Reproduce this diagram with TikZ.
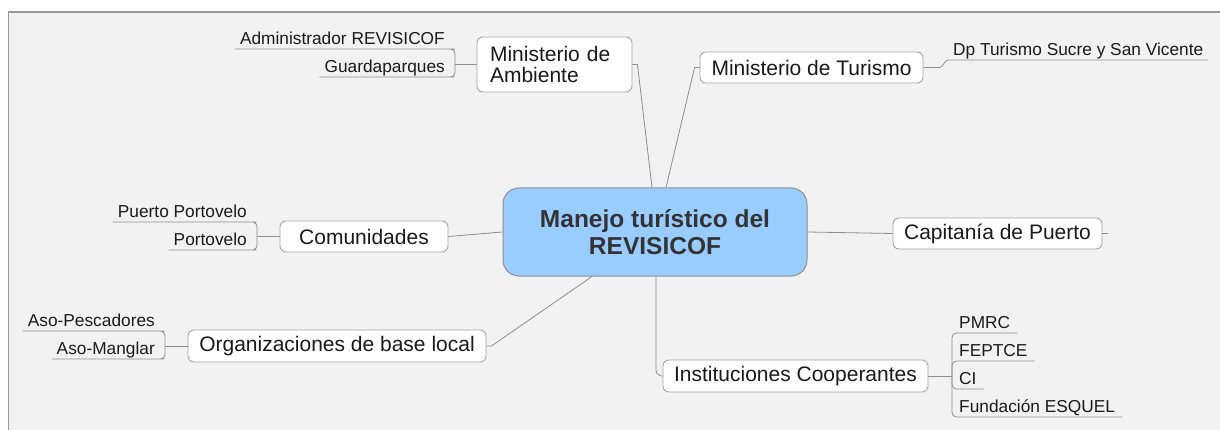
\documentclass[tikz,border=0pt]{standalone}
\usepackage{fontspec}
\setmainfont{Liberation Sans}
\usetikzlibrary{calc}
\definecolor{bgpanel}{HTML}{F2F2F2}
\definecolor{frameline}{HTML}{9A9A9A}
\definecolor{boxline}{HTML}{A6A6A6}
\definecolor{connline}{HTML}{8E8E8E}
\definecolor{centerblue}{HTML}{99CCFF}
\definecolor{centertext}{HTML}{333333}
\definecolor{labeltext}{HTML}{1A1A1A}
\tikzset{
  topicbox/.style={draw=boxline, line width=0.9pt, fill=white, rounded corners=6pt,
    inner sep=0pt, minimum height=31pt, text=labeltext,
    font=\fontsize{21}{24}\selectfont},
  centralbox/.style={draw=connline, line width=1pt, fill=centerblue, rounded corners=16pt,
    inner sep=0pt, minimum width=304pt, minimum height=88pt, align=center,
    text=centertext, font=\fontsize{24.5}{27.5}\selectfont\bfseries},
  leaf/.style={inner xsep=5pt, inner ysep=0.5pt, text height=12.5pt, text depth=4pt,
    text=labeltext, font=\fontsize{17.3}{20}\selectfont},
  conn/.style={draw=connline, line width=0.8pt},
  brack/.style={conn, rounded corners=4.5pt},
}
\begin{document}
\begin{tikzpicture}[x=1pt,y=-1pt]
\useasboundingbox (0,0) rectangle (1220,430);
% panel
\fill[bgpanel] (8,12) rectangle (1220,430);
\draw[frameline, line width=1pt] (8,430) -- (8,12);
\draw[frameline, line width=1.8pt] (8,12) -- (1220,12);

% central node
\node[centralbox] (C) at (655,232) {Manejo turístico del\\REVISICOF};

% main topics
\node[topicbox, minimum width=155pt, minimum height=55pt, text width=129pt, align=left,
  font=\fontsize{21}{21}\selectfont] (MA) at (554.5,64.5) {Ministerio de\\Ambiente};
\node[topicbox, minimum width=223pt] (MT) at (811.5,67.5) {Ministerio de Turismo};
\node[topicbox, minimum width=168pt] (COM) at (364,236.5) {Comunidades};
\node[topicbox, minimum width=209pt] (CAP) at (997.5,233.5) {Capitanía de Puerto};
\node[topicbox, minimum width=298pt, minimum height=32pt] (ORG) at (337,346) {Organizaciones de base local};
\node[topicbox, minimum width=265pt, minimum height=32pt] (INS) at (795.5,376) {Instituciones Cooperantes};

% connectors to centre
\draw[conn] (MA.east) -- ++(5,0) -- ($(C.north)+(-3,0)$);
\draw[conn] (MT.west) -- ++(-5,0) -- ($(C.north)+(11,0)$);
\draw[conn] (COM.east) -- (C.west);
\draw[conn] (C.east) -- (CAP.west);
\draw[conn] (CAP.east) -- ++(6,0);
\draw[conn] (ORG.east) -- ++(5,0) -- ($(C.south)+(-63,0)$);
\draw[conn, rounded corners=6pt] ($(C.south)+(1,0)$) |- (INS.west);

% Ministerio de Ambiente leaves
\coordinate (bMA) at (455,64.5);
\node[leaf, anchor=south east] (ADM) at (450,49) {Administrador REVISICOF};
\node[leaf, anchor=south east] (GUA) at (450,77) {Guardaparques};
\draw[conn] (MA.west) -- (bMA);
\draw[brack] (bMA) |- (ADM.south east) -- (ADM.south west);
\draw[brack] (bMA) |- (GUA.south east) -- (GUA.south west);

% Ministerio de Turismo leaf
\node[leaf, anchor=south west, inner xsep=5pt] (DP) at (948,60) {Dp Turismo Sucre y San Vicente};
\draw[conn] (MT.east) -- ++(16,0) .. controls ++(4,0) and ++(-4,0) .. (DP.south west) -- (DP.south east);

% Comunidades leaves
\coordinate (bCOM) at (257,236.5);
\node[leaf, anchor=south east] (PP) at (252,222) {Puerto Portovelo};
\node[leaf, anchor=south east] (PO) at (252,250) {Portovelo};
\draw[conn] (COM.west) -- (bCOM);
\draw[brack] (bCOM) |- (PP.south east) -- (PP.south west);
\draw[brack] (bCOM) |- (PO.south east) -- (PO.south west);

% Organizaciones leaves
\coordinate (bORG) at (165,346);
\node[leaf, anchor=south east] (AP) at (160,331) {Aso-Pescadores};
\node[leaf, anchor=south east] (AM) at (160,359) {Aso-Manglar};
\draw[conn] (ORG.west) -- (bORG);
\draw[brack] (bORG) |- (AP.south east) -- (AP.south west);
\draw[brack] (bORG) |- (AM.south east) -- (AM.south west);

% Instituciones leaves
\coordinate (bINS) at (952,376);
\node[leaf, anchor=south west, inner xsep=7pt] (PM) at (952,333) {PMRC};
\node[leaf, anchor=south west, inner xsep=7pt] (FE) at (952,361) {FEPTCE};
\node[leaf, anchor=south west, inner xsep=7pt] (CI) at (952,389) {CI};
\node[leaf, anchor=south west, inner xsep=7pt] (FU) at (952,417) {Fundación ESQUEL};
\draw[conn] (INS.east) -- (bINS);
\draw[brack] (bINS) |- (PM.south east);
\draw[brack] (bINS) |- (FE.south east);
\draw[brack] (bINS) |- (CI.south east);
\draw[brack] (bINS) |- (FU.south east);
\end{tikzpicture}
\end{document}
